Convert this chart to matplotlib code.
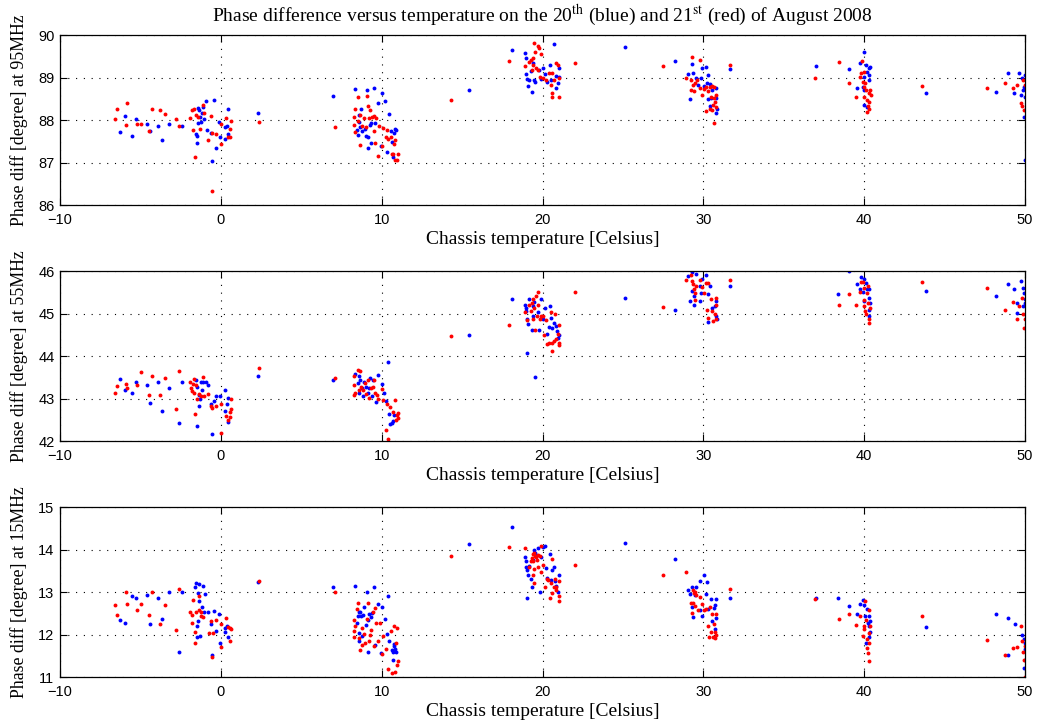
import matplotlib
matplotlib.use("Agg")
import matplotlib.pyplot as plt

plt.rcParams['mathtext.fontset'] = 'stix'

# (temperature, phase) pairs, 95 MHz
blue_95 = [(-6.29, 87.71), (-5.98, 88.1), (-5.55, 87.62), (-5.28, 88.02), (-4.56, 87.91), (-4.41, 87.74),
           (-3.88, 87.87), (-3.65, 87.53), (-3.22, 87.9), (-2.41, 87.87), (-1.55, 87.67), (-1.51, 87.45),
           (-1.48, 87.62), (-1.44, 88.29), (-1.42, 87.94), (-1.34, 88.24), (-1.28, 88.08), (-1.26, 87.95),
           (-1.18, 88.16), (-1.09, 88.31), (-1.03, 88.02), (-0.95, 88.45), (-0.89, 87.76), (-0.62, 87.69),
           (-0.52, 87.03), (-0.45, 88.46), (-0.27, 87.33), (-0.14, 87.96), (-0.04, 87.61), (0.23, 87.84),
           (0.27, 87.55), (0.39, 87.87), (0.43, 87.67), (0.47, 88.27), (2.29, 88.16), (7.0, 88.57),
           (8.35, 88.73), (8.49, 87.76), (8.54, 87.65), (8.58, 88.12), (8.62, 87.96), (8.66, 87.84),
           (8.74, 88.27), (8.78, 87.75), (8.95, 87.8), (9.0, 87.62), (9.11, 88.7), (9.13, 87.34),
           (9.15, 87.61), (9.28, 87.88), (9.32, 87.45), (9.36, 87.92), (9.53, 88.76), (9.61, 87.92),
           (9.79, 88.41), (9.96, 87.4), (10.04, 88.63), (10.21, 88.45), (10.31, 87.24), (10.45, 88.13),
           (10.56, 87.75), (10.66, 87.49), (10.7, 87.14), (10.78, 87.7), (10.82, 87.79), (10.89, 87.76),
           (15.44, 88.71), (18.1, 89.65),
           (18.92, 89.57), (18.96, 89.45), (19.0, 89.08), (19.06, 88.96), (19.1, 88.8), (19.17, 88.94),
           (19.33, 88.67), (19.38, 89.33), (19.48, 88.94), (19.54, 88.9), (19.27, 89.16), (19.79, 89.18),
           (19.9, 88.96), (20.04, 89.22), (20.17, 89.08), (20.31, 88.9), (20.46, 89.29), (20.52, 88.93),
           (20.73, 89.8), (20.83, 89.04), (20.87, 88.75), (20.94, 88.86), (21.0, 89.22), (21.04, 89.02),
           (25.16, 89.71), (28.21, 89.39), (29.04, 89.08), (29.19, 88.49), (29.27, 89.31), (29.35, 89.11),
           (29.52, 89.0), (29.67, 88.82), (29.83, 88.98), (29.92, 89.22), (30.02, 88.8), (30.14, 89.25),
           (30.29, 89.06), (30.23, 88.88), (30.44, 88.85), (30.56, 88.71), (30.77, 88.75), (30.29, 88.49),
           (30.5, 88.51), (30.4, 88.33), (30.81, 88.51), (30.87, 88.25), (30.77, 88.17), (31.64, 89.19),
           (37.0, 89.27), (39.08, 89.2), (39.58, 88.75), (39.75, 89.33), (40.0, 89.6), (40.0, 89.02),
           (39.92, 88.78), (39.96, 88.71), (40.12, 89.29), (40.17, 89.14), (40.27, 89.22), (40.33, 89.06),
           (40.37, 89.25), (40.0, 88.35), (40.17, 88.31), (40.27, 88.94), (43.87, 88.63), (48.21, 88.67),
           (48.94, 89.11), (49.31, 88.64), (49.62, 89.1), (49.77, 88.6), (49.9, 88.71), (49.98, 89.06),
           (49.98, 88.55), (49.94, 88.06), (49.98, 87.06), (49.83, 89.0), (49.94, 88.78)]
red_95 = [(-6.6, 88.02), (-6.45, 88.25), (-5.84, 88.41), (-5.92, 87.89), (-5.22, 87.91), (-4.95, 87.91),
          (-4.47, 87.75), (-4.31, 88.25), (-3.79, 88.23), (-3.48, 88.15), (-2.76, 88.02), (-2.58, 87.85),
          (-1.9, 88.05), (-1.8, 88.24), (-1.69, 88.26), (-1.75, 87.77), (-1.61, 87.13), (-1.55, 88.12),
          (-1.4, 88.08), (-1.28, 87.78), (-1.09, 88.35), (-1.05, 88.16), (-0.78, 87.52), (-0.6, 88.09),
          (-0.56, 87.69), (-0.56, 86.34), (-0.27, 87.66), (-0.02, 87.43), (0.02, 87.9), (0.31, 88.05),
          (0.43, 87.6), (0.56, 87.6), (0.6, 87.8), (0.66, 87.98), (2.39, 87.96), (7.07, 87.84),
          (8.35, 88.27), (8.52, 88.53), (8.25, 88.07), (8.27, 87.88), (8.33, 87.71), (8.52, 87.98),
          (8.66, 88.12), (8.68, 87.41), (8.76, 87.85), (8.93, 88.04), (9.03, 87.84), (9.09, 88.57),
          (9.18, 88.34), (9.26, 88.24), (9.22, 88.04), (9.4, 88.06), (9.51, 88.09), (9.55, 87.75),
          (9.59, 87.45), (9.65, 88.04), (9.75, 87.16), (9.86, 87.87), (10.02, 87.4), (10.1, 87.82),
          (10.27, 87.61), (10.33, 87.76), (10.41, 87.55), (10.56, 87.59), (10.62, 87.2), (10.68, 87.2),
          (10.78, 87.43), (10.82, 87.54), (10.85, 87.06), (10.95, 87.06), (10.99, 87.19), (14.33, 88.47),
          (17.94, 89.4),
          (18.92, 89.27), (19.48, 89.82), (19.38, 89.45), (19.54, 89.59), (19.69, 89.73), (19.79, 89.69),
          (19.9, 89.55), (19.17, 89.37), (19.27, 89.41), (19.42, 89.29), (19.33, 89.18), (19.58, 89.22),
          (19.69, 89.18), (19.83, 89.02), (20.04, 88.98), (20.21, 88.94), (20.42, 89.1), (20.58, 89.1),
          (20.52, 88.82), (20.62, 88.63), (20.58, 88.53), (20.73, 88.94), (20.87, 89.33), (20.96, 89.29),
          (21.0, 88.98), (21.0, 88.55), (22.02, 89.33), (27.48, 89.28), (28.9, 88.99), (29.77, 89.41),
          (29.31, 89.49), (29.25, 88.94), (29.36, 88.82), (29.46, 88.86), (29.6, 88.94), (29.25, 88.71),
          (29.4, 88.69), (29.77, 88.75), (29.94, 88.59), (30.02, 88.72), (30.14, 88.77), (30.29, 88.69),
          (30.4, 88.77), (30.52, 88.8), (30.64, 88.77), (30.5, 88.55), (30.64, 88.51), (30.81, 88.59),
          (30.71, 88.43), (30.6, 88.35), (30.77, 88.31), (30.56, 88.24), (30.4, 88.25), (30.19, 88.21),
          (30.64, 87.92), (31.68, 89.29), (36.96, 89.0), (38.42, 89.37), (39.08, 88.88), (39.5, 88.55),
          (39.71, 89.02), (39.85, 89.4), (39.79, 89.11), (39.96, 89.14), (39.92, 88.9), (40.0, 88.77),
          (39.96, 88.55), (40.06, 88.86), (40.12, 88.71), (40.17, 88.47), (40.21, 88.33), (40.27, 88.63),
          (40.29, 88.25), (40.17, 88.2), (40.37, 88.71), (40.33, 88.43), (40.42, 88.59), (43.6, 88.8),
          (47.65, 88.76), (48.73, 88.88), (49.27, 88.75), (49.52, 88.82), (49.73, 88.41), (49.83, 88.33),
          (49.9, 88.94), (49.94, 88.24), (49.98, 88.82)]

# 55 MHz
blue_55 = [(-6.29, 43.46), (-5.98, 43.19), (-5.55, 43.14), (-5.28, 43.39), (-4.56, 43.31), (-4.41, 42.89),
           (-3.88, 43.39), (-3.65, 42.7), (-3.22, 43.24), (-2.62, 42.43), (-2.41, 43.38), (-1.55, 43.44),
           (-1.51, 42.36), (-1.46, 43.28), (-1.38, 43.09), (-1.34, 42.83), (-1.3, 42.98), (-1.24, 43.38),
           (-1.18, 43.2), (-1.09, 43.38), (-0.93, 43.39), (-0.82, 43.31), (-0.62, 42.87), (-0.52, 42.17),
           (-0.45, 42.95), (-0.27, 43.06), (-0.04, 43.05), (0.23, 43.2), (0.23, 42.7), (0.39, 42.87),
           (0.43, 43.01), (0.47, 42.45), (2.29, 43.54), (7.0, 43.43), (8.35, 43.57), (8.52, 43.36),
           (8.56, 43.52), (8.6, 43.14), (8.66, 43.44), (8.76, 43.24), (8.82, 43.05), (8.93, 43.4),
           (9.01, 43.28), (9.13, 43.13), (9.22, 43.24), (9.28, 43.48), (9.38, 43.06), (9.48, 43.44),
           (9.63, 42.92), (9.79, 43.56), (9.99, 43.35), (10.16, 43.13), (10.25, 42.94), (10.37, 43.87),
           (10.45, 42.64), (10.52, 42.4), (10.62, 42.42), (10.72, 42.46), (10.78, 42.61), (15.44, 44.5),
           (18.1, 45.35),
           (18.92, 45.21), (18.96, 45.06), (19.0, 45.13), (19.06, 44.87), (19.1, 44.76), (19.06, 44.07),
           (19.17, 45.35), (19.33, 44.61), (19.38, 45.17), (19.42, 44.94), (19.48, 45.27), (19.54, 43.5),
           (19.69, 45.03), (19.79, 44.61), (19.9, 45.35), (20.04, 44.87), (20.17, 45.13), (20.29, 44.53),
           (20.39, 44.69), (20.46, 45.17), (20.52, 44.9), (20.62, 44.66), (20.73, 44.78), (20.83, 44.7),
           (20.89, 44.58), (20.94, 44.43), (21.0, 44.5), (25.12, 45.36), (28.21, 45.09), (29.04, 45.88),
           (29.19, 45.29), (29.27, 45.98), (29.31, 45.53), (29.4, 45.41), (29.4, 45.21), (29.52, 45.92),
           (29.77, 45.29), (29.81, 45.65), (29.88, 45.49), (29.94, 45.82), (30.14, 45.9), (30.29, 44.8),
           (30.4, 45.65), (30.29, 45.47), (30.56, 45.13), (30.71, 45.17), (30.81, 44.94), (30.85, 44.86),
           (30.81, 45.29), (31.64, 45.65), (38.4, 45.47), (39.08, 45.99), (39.58, 45.69), (39.71, 45.58),
           (39.79, 45.87), (39.96, 45.82), (39.92, 45.5), (39.96, 45.29), (40.12, 45.72), (40.17, 45.58),
           (40.27, 45.37), (40.33, 45.57), (40.37, 45.25), (40.33, 45.09), (40.27, 44.94), (43.87, 45.53),
           (48.21, 45.41), (48.94, 45.69), (49.31, 45.57), (49.52, 45.24), (49.73, 45.76), (49.52, 45.02),
           (49.9, 45.61), (49.94, 45.49), (49.98, 45.35), (49.98, 45.25), (49.9, 45.17)]
red_55 = [(-6.6, 43.13), (-6.45, 43.29), (-5.92, 43.34), (-5.84, 43.24), (-5.2, 43.31), (-4.97, 43.63),
          (-4.47, 43.09), (-4.31, 43.53), (-3.79, 43.09), (-3.48, 43.48), (-2.76, 42.76), (-2.58, 43.65),
          (-1.9, 43.4), (-1.86, 43.24), (-1.79, 43.17), (-1.75, 43.35), (-1.69, 43.46), (-1.65, 43.13),
          (-1.61, 42.64), (-1.55, 43.32), (-1.46, 42.98), (-1.34, 43.11), (-1.24, 43.05), (-1.09, 43.51),
          (-1.05, 43.05), (-0.78, 43.1), (-0.6, 42.83), (-0.52, 42.77), (-0.27, 42.83), (0.0, 42.87),
          (-0.02, 42.2), (0.31, 42.59), (0.43, 42.5), (0.56, 42.56), (0.6, 42.69), (0.66, 42.75),
          (0.66, 42.98), (2.39, 43.73), (7.07, 43.49), (8.25, 43.54), (8.25, 43.32), (8.31, 43.09),
          (8.35, 43.13), (8.52, 43.68), (8.66, 43.64), (8.56, 43.2), (8.72, 43.28), (8.87, 43.19),
          (8.97, 43.36), (9.01, 43.11), (9.13, 43.44), (9.22, 43.01), (9.34, 43.24), (9.48, 43.28),
          (9.55, 43.44), (9.59, 43.13), (9.69, 43.09), (9.79, 42.98), (9.99, 43.22), (10.1, 42.97),
          (10.25, 42.26), (10.37, 42.04), (10.31, 42.87), (10.52, 42.81), (10.68, 42.69), (10.82, 42.97),
          (10.87, 42.5), (10.93, 42.61), (10.99, 42.67), (10.99, 42.54), (14.33, 44.46), (17.94, 44.74),
          (18.92, 45.03), (19.06, 44.84), (19.17, 45.21), (19.27, 45.06), (19.33, 45.25), (19.42, 45.35),
          (19.38, 44.86), (19.48, 45.13), (19.54, 44.61), (19.58, 45.41), (19.69, 45.5), (19.63, 44.94),
          (19.75, 45.21), (19.83, 44.86), (19.9, 44.95), (20.04, 44.94), (20.1, 44.5), (20.21, 44.84),
          (20.31, 44.29), (20.42, 44.31), (20.52, 45.03), (20.58, 44.31), (20.62, 44.13), (20.73, 44.35),
          (20.79, 44.98), (20.83, 44.39), (20.94, 44.53), (21.0, 44.31), (21.04, 44.27), (21.04, 44.74),
          (22.02, 45.51), (27.48, 45.16), (28.9, 45.79), (29.25, 45.9), (29.31, 45.76), (29.35, 45.69),
          (29.4, 45.58), (29.46, 45.49), (29.46, 45.31), (29.52, 45.65), (29.77, 45.8), (29.94, 45.63),
          (30.02, 45.49), (30.14, 45.72), (30.29, 45.72), (30.23, 45.09), (30.29, 44.9), (30.5, 45.35),
          (30.56, 45.06), (30.6, 44.82), (30.71, 44.98), (30.77, 44.86), (30.81, 45.19), (30.81, 45.37),
          (31.68, 45.8), (38.44, 45.19), (39.08, 45.45), (39.5, 45.2), (39.71, 45.5), (39.79, 45.74),
          (39.92, 45.74), (39.96, 45.61), (39.96, 45.33), (40.0, 45.17), (40.06, 45.06), (40.12, 44.98),
          (40.17, 45.49), (40.21, 45.25), (40.27, 44.86), (40.33, 44.78), (40.37, 45.13), (40.21, 45.65),
          (43.6, 45.74), (47.65, 45.61), (48.73, 45.09), (49.27, 45.28), (49.48, 44.86), (49.62, 45.17),
          (49.83, 45.37), (49.9, 44.98), (49.94, 44.66), (49.98, 44.87)]

# 15 MHz
blue_15 = [(-6.29, 12.36), (-5.98, 12.28), (-5.55, 12.92), (-5.28, 12.88), (-4.56, 12.94), (-4.41, 12.25),
           (-3.88, 12.87), (-3.65, 12.37), (-3.22, 13.02), (-2.62, 11.61), (-2.41, 13.0), (-1.59, 13.14),
           (-1.53, 13.22), (-1.51, 12.2), (-1.48, 11.96), (-1.44, 12.98), (-1.4, 12.32), (-1.38, 12.81),
           (-1.34, 13.2), (-1.3, 11.98), (-1.2, 12.67), (-1.13, 13.16), (-1.05, 12.55), (-0.97, 12.96),
           (-0.82, 12.55), (-0.6, 12.25), (-0.52, 11.53), (-0.45, 12.57), (-0.27, 12.09), (-0.14, 12.5),
           (-0.04, 11.82), (0.23, 12.06), (0.29, 12.16), (0.39, 12.22), (0.45, 11.96), (2.29, 13.24),
           (7.0, 13.13), (8.35, 13.16), (8.47, 12.29), (8.52, 12.44), (8.56, 12.55), (8.6, 12.04),
           (8.62, 11.87), (8.68, 12.53), (8.72, 12.44), (8.76, 11.98), (8.87, 12.47), (8.93, 12.67),
           (9.0, 12.23), (9.07, 13.0), (9.13, 11.61), (9.18, 12.36), (9.24, 12.49), (9.32, 12.42),
           (9.38, 12.51), (9.53, 13.14), (9.61, 11.77), (9.79, 12.73), (9.96, 11.57), (10.04, 12.65),
           (10.21, 12.37), (10.31, 12.03), (10.39, 12.92), (10.45, 11.85), (10.62, 11.64), (10.68, 11.42),
           (10.72, 11.59), (10.78, 11.73), (10.82, 11.67), (10.89, 11.59), (10.78, 11.79), (15.44, 14.15),
           (18.1, 14.55),
           (18.92, 13.83), (18.96, 13.73), (19.0, 13.6), (19.06, 13.53), (19.1, 13.42), (19.06, 12.87),
           (19.17, 13.63), (19.27, 13.31), (19.33, 13.13), (19.42, 13.77), (19.48, 14.0), (19.54, 13.93),
           (19.75, 14.04), (19.83, 13.0), (19.9, 13.83), (20.04, 14.08), (20.17, 14.1), (20.21, 13.57),
           (20.31, 13.34), (20.46, 13.91), (20.52, 13.3), (20.58, 13.53), (20.73, 13.6), (20.79, 13.26),
           (20.87, 13.16), (20.94, 13.02), (21.0, 13.42), (25.12, 14.16), (28.21, 13.79), (29.04, 13.06),
           (29.19, 12.97), (29.31, 13.13), (29.27, 12.66), (29.35, 12.42), (29.46, 12.95), (29.56, 13.13),
           (29.77, 13.26), (29.81, 12.58), (29.94, 12.44), (30.02, 13.4), (30.14, 12.97), (30.23, 13.24),
           (30.29, 12.61), (30.5, 12.84), (30.56, 12.32), (30.64, 12.63), (30.71, 12.71), (30.77, 12.84),
           (30.81, 12.4), (30.71, 12.14), (31.64, 12.87), (37.0, 12.86), (38.4, 12.87), (39.08, 12.69),
           (39.58, 12.5), (39.75, 12.73), (39.92, 12.83), (39.96, 12.71), (40.06, 12.44), (40.17, 12.61),
           (40.21, 12.29), (40.27, 12.2), (40.33, 12.44), (40.37, 12.32), (40.37, 12.08), (40.27, 11.96),
           (40.12, 11.81), (43.87, 12.18), (48.21, 12.49), (48.94, 12.41), (48.94, 11.53), (49.35, 12.26),
           (49.83, 11.99), (49.94, 11.9), (49.98, 11.81), (49.98, 11.67), (49.98, 11.42), (49.94, 11.22)]
red_15 = [(-6.6, 12.71), (-6.45, 12.47), (-5.92, 13.02), (-5.84, 12.72), (-5.2, 12.58), (-4.97, 12.73),
          (-4.47, 12.47), (-4.31, 13.01), (-3.79, 12.25), (-3.48, 12.7), (-2.76, 12.11), (-2.58, 13.09),
          (-1.9, 12.53), (-1.81, 12.47), (-1.77, 12.29), (-1.71, 12.83), (-1.63, 12.08), (-1.59, 11.81),
          (-1.55, 12.53), (-1.38, 12.58), (-1.34, 12.92), (-1.26, 12.44), (-1.22, 12.53), (-1.09, 12.42),
          (-0.76, 12.05), (-0.6, 12.32), (-0.56, 11.48), (-0.49, 12.05), (-0.27, 12.36), (-0.02, 12.25),
          (-0.02, 11.71), (0.31, 12.4), (0.43, 12.18), (0.56, 12.16), (0.6, 11.85), (0.66, 12.15),
          (2.37, 13.26), (7.07, 13.0), (8.25, 12.36), (8.25, 12.1), (8.31, 11.96), (8.35, 12.22),
          (8.45, 12.61), (8.52, 12.76), (8.56, 11.93), (8.68, 11.65), (8.76, 12.16), (8.8, 11.77),
          (8.89, 12.03), (8.97, 11.81), (9.07, 12.37), (9.18, 12.75), (9.24, 11.85), (9.28, 12.0),
          (9.34, 12.12), (9.48, 12.53), (9.55, 11.73), (9.59, 12.63), (9.63, 12.28), (9.75, 11.86),
          (9.9, 12.28), (10.04, 11.56), (10.1, 11.98), (10.27, 11.67), (10.41, 11.2), (10.58, 12.09),
          (10.66, 11.1), (10.76, 12.2), (10.82, 11.14), (10.87, 11.81), (10.93, 11.29), (10.97, 12.16),
          (10.99, 11.38), (14.33, 13.86), (17.94, 14.08),
          (18.92, 14.04), (19.17, 13.61), (19.27, 13.73), (19.33, 13.81), (19.38, 13.91), (19.42, 13.73),
          (19.46, 13.55), (19.48, 13.94), (19.54, 13.86), (19.58, 13.83), (19.42, 13.42), (19.48, 13.22),
          (19.63, 13.77), (19.69, 13.89), (19.75, 13.6), (19.83, 13.85), (19.9, 13.49), (19.9, 14.1),
          (20.04, 13.65), (20.17, 13.13), (20.25, 13.31), (20.37, 13.3), (20.46, 12.87), (20.52, 13.22),
          (20.58, 13.78), (20.62, 12.98), (20.73, 13.13), (20.79, 13.31), (20.83, 13.14), (20.87, 13.06),
          (21.0, 12.91), (21.04, 12.79), (21.04, 13.26), (22.02, 13.64), (27.48, 13.4), (28.9, 13.49),
          (29.25, 12.76), (29.31, 12.51), (29.35, 13.06), (29.4, 12.98), (29.46, 13.02), (29.35, 12.75),
          (29.46, 12.69), (29.52, 12.95), (29.77, 12.89), (29.67, 12.58), (29.94, 12.73), (30.02, 12.59),
          (30.14, 12.61), (30.29, 12.22), (30.35, 11.95), (30.44, 12.66), (30.56, 12.5), (30.6, 11.95),
          (30.64, 12.26), (30.71, 12.06), (30.71, 11.93), (30.81, 12.5), (30.81, 12.0), (30.5, 12.08),
          (31.68, 13.08), (36.96, 12.84), (38.42, 12.37), (39.08, 12.5), (39.5, 12.23), (39.71, 12.44),
          (39.92, 11.98), (39.96, 12.2), (40.0, 12.14), (40.06, 12.81), (40.12, 12.36), (40.17, 11.9),
          (40.21, 11.57), (40.27, 11.38), (40.27, 12.04), (40.33, 11.82), (40.37, 12.22), (40.17, 11.69),
          (40.27, 12.59), (43.6, 12.44), (47.65, 11.89), (48.73, 11.53), (49.27, 11.69), (49.52, 11.71),
          (49.73, 12.2), (49.83, 11.85), (49.9, 11.61), (49.94, 11.42), (49.98, 11.01), (49.98, 11.75)]

panels = [
    (blue_95, red_95, (86, 90), 'Phase diff [degree] at 95MHz'),
    (blue_55, red_55, (42, 46), 'Phase diff [degree] at 55MHz'),
    (blue_15, red_15, (11, 15), 'Phase diff [degree] at 15MHz'),
]
bottoms = [0.7184, 0.3942, 0.0694]

serif = 'Liberation Serif'
sans = 'Liberation Sans'

fig = plt.figure(figsize=(10.47, 7.28), dpi=100)

for i, (blue, red, ylim, ylab) in enumerate(panels):
    ax = fig.add_axes([0.0573, bottoms[i], 0.9217, 0.2335])
    bx, by = zip(*blue)
    rx, ry = zip(*red)
    ax.plot(bx, by, 'o', color='blue', ms=2.8, mew=0)
    ax.plot(rx, ry, 'o', color='red', ms=2.8, mew=0)
    ax.set_xlim(-10, 50)
    ax.set_ylim(*ylim)
    ax.set_xticks(range(-10, 51, 10))
    ax.set_yticks(range(ylim[0], ylim[1] + 1))
    ax.grid(True, color='black', linestyle=(0, (1, 6)), linewidth=0.8)
    ax.tick_params(direction='in', top=True, right=True, length=5, width=0.8, labelsize=10.5)
    ax.tick_params(axis='x', pad=5.5)
    ax.tick_params(axis='y', pad=4)
    for lab in ax.get_xticklabels() + ax.get_yticklabels():
        lab.set_fontfamily(sans)
    for s in ax.spines.values():
        s.set_linewidth(0.9)
    ax.set_xlabel('Chassis temperature [Celsius]', fontsize=14, family=serif, labelpad=3)
    ax.set_ylabel(ylab, fontsize=12.8, family=serif, labelpad=7)
    if i == 0:
        ax.set_title(r'Phase difference versus temperature on the 20$^{\mathrm{th}}$ (blue) '
                     r'and 21$^{\mathrm{st}}$ (red) of August 2008',
                     fontsize=14, family=serif, pad=10)

fig.savefig('out.png', dpi=100)
